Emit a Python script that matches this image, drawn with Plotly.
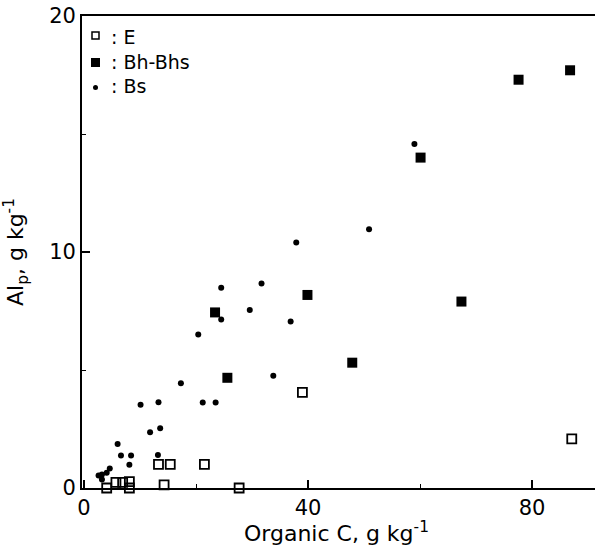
import plotly.graph_objects as go

# E horizon (open squares)
e_x = [4.05, 5.7, 6.9, 8.1, 8.1, 14.3, 13.3, 15.4, 21.5, 27.7, 39.0, 87.1]
e_y = [0.0, 0.24, 0.24, 0.27, 0.0, 0.13, 1.0, 1.0, 1.0, 0.0, 4.05, 2.08]

# Bh-Bhs horizon (filled squares)
bh_x = [23.4, 25.6, 39.9, 47.9, 60.1, 67.4, 77.6, 86.8]
bh_y = [7.44, 4.67, 8.18, 5.31, 14.0, 7.9, 17.3, 17.7]

# Bs horizon (dots)
bs_x = [2.6, 3.2, 3.2, 4.05, 4.6, 6.0, 6.6, 8.4, 8.1, 10.1, 11.8, 13.6, 13.2,
        13.3, 17.3, 20.4, 21.2, 23.5, 24.5, 24.5, 29.6, 31.7, 33.8, 36.9,
        37.9, 50.9, 59.0]
bs_y = [0.53, 0.57, 0.36, 0.65, 0.83, 1.86, 1.38, 1.38, 0.98, 3.53, 2.36, 2.53, 1.40,
        3.63, 4.44, 6.5, 3.62, 3.62, 7.14, 8.49, 7.54, 8.66, 4.76, 7.06,
        10.4, 10.96, 14.58]

x_ticks = [0, 40, 80]
y_ticks = [0, 10, 20]

legend_labels = [": E", ": Bh-Bhs", ": Bs"]
x_title = "Organic C, g kg<sup>-1</sup>"
y_title = "Al<sub>p</sub>, g kg<sup>-1</sup>"

FONT = "DejaVu Sans, Arial, sans-serif"

W, H = 595, 551
ML, MR, MT, MB = 82, 0, 16, 63
PW, PH = W - ML - MR, H - MT - MB


def px(x):
    return (x - ML) / PW


def py(y):
    return (H - MB - y) / PH


fig = go.Figure()
fig.add_trace(go.Scatter(
    x=e_x, y=e_y, mode="markers", name=legend_labels[0], cliponaxis=False,
    marker=dict(symbol="square-open", size=9, color="black",
                line=dict(width=1.8, color="black"))))
fig.add_trace(go.Scatter(
    x=bh_x, y=bh_y, mode="markers", name=legend_labels[1], cliponaxis=False,
    marker=dict(symbol="square", size=10, color="black")))
fig.add_trace(go.Scatter(
    x=bs_x, y=bs_y, mode="markers", name=legend_labels[2], cliponaxis=False,
    marker=dict(symbol="circle", size=6, color="black")))

# Manual legend (symbols as shapes, labels as annotations)
shapes = [
    dict(type="rect", xref="paper", yref="paper",
         x0=px(92), x1=px(99), y0=py(39), y1=py(32),
         line=dict(color="black", width=1.5), fillcolor="white"),
    dict(type="rect", xref="paper", yref="paper",
         x0=px(91), x1=px(100), y0=py(67), y1=py(58),
         line=dict(color="black", width=0), fillcolor="black"),
    dict(type="circle", xref="paper", yref="paper",
         x0=px(93), x1=px(98), y0=py(90), y1=py(85),
         line=dict(color="black", width=0), fillcolor="black"),
]
annotations = []
for lab, yc in zip(legend_labels, [37, 62, 86]):
    annotations.append(dict(
        text=lab, xref="paper", yref="paper", x=px(109), y=py(yc),
        xanchor="left", yanchor="middle", showarrow=False,
        font=dict(size=19, family=FONT, color="black")))
annotations.append(dict(
    text=x_title, xref="paper", yref="paper", x=px(336), y=py(532),
    xanchor="center", yanchor="middle", showarrow=False,
    font=dict(size=22, family=FONT, color="black")))

fig.update_layout(
    width=W, height=H,
    margin=dict(l=ML, r=MR, t=MT, b=MB),
    plot_bgcolor="white", paper_bgcolor="white",
    font=dict(family=FONT, color="black"),
    showlegend=False,
    shapes=shapes,
    annotations=annotations,
    xaxis=dict(
        range=[-0.36, 91.25], tickmode="array", tickvals=x_ticks,
        ticks="inside", ticklen=8, tickwidth=1.5, tickcolor="black",
        minor=dict(ticks="inside", ticklen=4, tickwidth=1, dtick=20, tick0=0, tickcolor="black"),
        showline=True, linewidth=2, linecolor="black", mirror=True,
        showgrid=False, zeroline=False,
        tickfont=dict(size=21),
    ),
    yaxis=dict(
        range=[0, 20], tickmode="array", tickvals=y_ticks,
        ticks="inside", ticklen=8, tickwidth=1.5, tickcolor="black",
        minor=dict(ticks="inside", ticklen=4, tickwidth=1, dtick=5, tick0=0, tickcolor="black"),
        showline=True, linewidth=1.8, linecolor="black",
        showgrid=False, zeroline=False,
        tickfont=dict(size=21),
        title=dict(text=y_title, font=dict(size=22), standoff=20),
    ),
)

fig.write_html("out.html")
